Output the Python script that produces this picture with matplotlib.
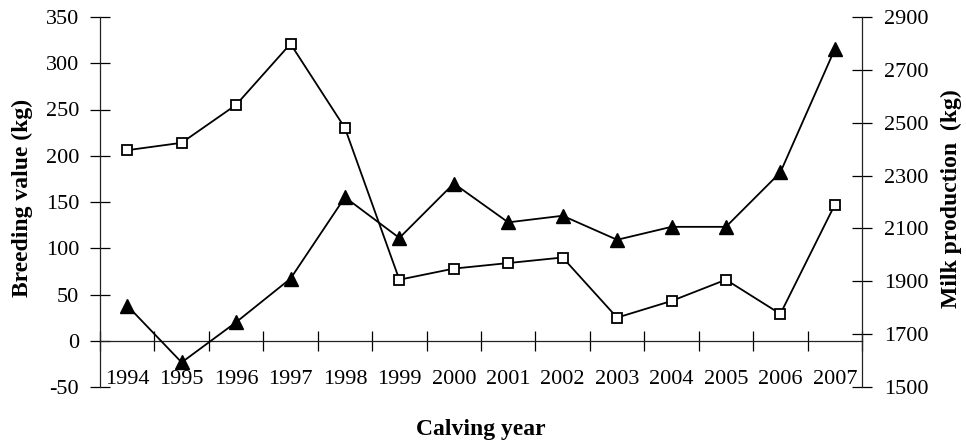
import numpy as np
import matplotlib.pyplot as plt

plt.rcParams['font.family'] = ['Liberation Serif', 'DejaVu Serif']
plt.rcParams['axes.unicode_minus'] = False

years = ['1994', '1995', '1996', '1997', '1998', '1999', '2000',
         '2001', '2002', '2003', '2004', '2005', '2006', '2007']
# open squares, left axis
breeding = [206, 214, 255, 321, 230, 66, 78, 84, 90, 25, 43, 66, 29, 147]
# filled triangles, right axis
milk = [1808, 1593, 1745, 1910, 2218, 2064, 2270, 2123, 2148, 2057, 2106, 2106, 2312, 2778]

x = np.arange(len(years))

fig = plt.figure(figsize=(9.66, 4.45), dpi=100)
ax = fig.add_axes([100/966, 1-387/445, (862-100)/966, (387-17)/445])
ax2 = ax.twinx()

ax.plot(x, breeding, color='black', lw=1.3, marker='s', ms=7.5,
        mfc='white', mec='black', mew=1.3, zorder=3)
ax2.plot(x, milk, color='black', lw=1.3, marker='^', ms=9.5,
         mfc='black', mec='black', zorder=3)

ax.set_xlim(-0.5, len(years) - 0.5)
ax.set_ylim(-50, 350)
ax.set_yticks(np.arange(-50, 351, 50))
ax2.set_ylim(1500, 2900)
ax2.set_yticks(np.arange(1500, 2901, 200))

for a in (ax, ax2):
    a.spines['top'].set_visible(False)
    for s in a.spines.values():
        s.set_linewidth(0.9)
        s.set_color('#222222')
ax2.spines['left'].set_visible(False)
ax2.spines['bottom'].set_visible(False)
ax.spines['right'].set_visible(False)
ax.spines['bottom'].set_position(('data', 0))

ax.set_xticks(x)
ax.set_xticklabels(years)
ax.set_xticks(np.arange(-0.5, len(years), 1.0), minor=True)
ax.tick_params(axis='x', which='major', length=0, pad=21, labelsize=16)
ax.tick_params(axis='x', which='minor', direction='inout', length=14, width=0.9)
ax.tick_params(axis='y', direction='inout', length=14, width=0.9, labelsize=16, pad=8)
ax2.tick_params(axis='y', direction='inout', length=14, width=0.9, labelsize=16, pad=9)

ax.set_ylabel('Breeding value (kg)', fontsize=17, fontweight='bold')
ax.yaxis.set_label_coords(-0.088, 0.51)
ax2.set_ylabel('Milk production  (kg)', fontsize=17, fontweight='bold')
ax2.yaxis.set_label_coords(1.104, 0.51)
fig.text(481/966, 1-430/445, 'Calving year', fontsize=17, fontweight='bold',
         ha='center', va='center')

fig.savefig('out.png', dpi=100)
